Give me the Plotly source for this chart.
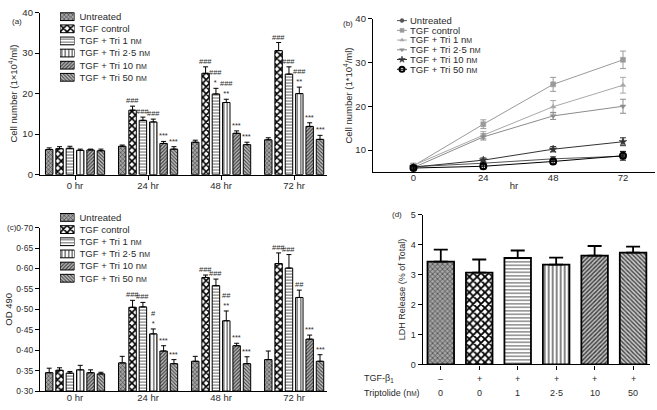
import plotly.graph_objects as go

W, H = 657, 410
FONT = "Liberation Sans, Arial, sans-serif"
TXT = '#2a2a2a'

# ---------------- data ----------------
groups = ['0 hr', '24 hr', '48 hr', '72 hr']
hours = [0, 24, 48, 72]
series_names = ['Untreated', 'TGF control', 'TGF + Tri 1 nM', 'TGF + Tri 2·5 nM',
                'TGF + Tri 10 nM', 'TGF + Tri 50 nM']

# (a)/(b) cell number (1x10^4/ml)
cell_untreated = [6.2, 7.0, 8.0, 8.6]
cell_tgf = [6.4, 15.9, 25.0, 30.6]
cell_tri1 = [6.5, 13.4, 19.9, 24.8]
cell_tri25 = [6.0, 13.0, 17.8, 20.0]
cell_tri10 = [6.1, 7.7, 10.2, 11.9]
cell_tri50 = [5.9, 6.3, 7.4, 8.7]
cell_err_untreated = [0.4, 0.3, 0.5, 0.5]
cell_err_tgf = [0.5, 1.0, 1.6, 2.0]
cell_err_tri1 = [0.5, 0.8, 1.4, 1.8]
cell_err_tri25 = [0.3, 0.7, 0.8, 1.6]
cell_err_tri10 = [0.2, 0.5, 0.6, 0.9]
cell_err_tri50 = [0.4, 0.6, 0.6, 1.0]

# (c) OD 490
od_untreated = [0.345, 0.369, 0.373, 0.377]
od_tgf = [0.351, 0.505, 0.578, 0.612]
od_tri1 = [0.344, 0.506, 0.558, 0.601]
od_tri25 = [0.352, 0.440, 0.472, 0.529]
od_tri10 = [0.345, 0.398, 0.411, 0.427]
od_tri50 = [0.342, 0.367, 0.367, 0.373]
od_err_untreated = [0.011, 0.016, 0.012, 0.021]
od_err_tgf = [0.006, 0.017, 0.006, 0.026]
od_err_tri1 = [0.004, 0.011, 0.016, 0.033]
od_err_tri25 = [0.011, 0.012, 0.024, 0.018]
od_err_tri10 = [0.007, 0.013, 0.006, 0.010]
od_err_tri50 = [0.004, 0.010, 0.017, 0.016]

# significance labels per series (one per time point)
a_sig = [['', '', '', ''],
         ['', '###', '###', '###'],
         ['', '###', '###<br>*', '###'],
         ['', '###', '###<br>**', '###<br>**'],
         ['', '***', '***', '***'],
         ['', '***', '***', '***']]
c_sig = [['', '', '', ''],
         ['', '###', '###', '###'],
         ['', '###', '###', '###'],
         ['', '#<br>*', '##<br>**', '##'],
         ['', '***', '***', '***'],
         ['', '***', '***', '***']]

# (d) LDH release
ldh_conditions = ['Untreated', 'TGF', 'Tri 1', 'Tri 2.5', 'Tri 10', 'Tri 50']
ldh_values = [3.43, 3.06, 3.55, 3.33, 3.63, 3.73]
ldh_errors = [0.40, 0.44, 0.25, 0.23, 0.32, 0.20]
tgf_row = ['–', '+', '+', '+', '+', '+']
trip_row = ['0', '0', '1', '2·5', '10', '50']

a_ticks = [0, 10, 20, 30, 40]
b_xticks = [0, 24, 48, 72]
b_yticks = [10, 20, 30, 40]
od_ticks = [0.30, 0.35, 0.40, 0.45, 0.50, 0.55, 0.60, 0.65, 0.70]
od_ticktext = ['0·30', '0·35', '0·40', '0·45', '0·50', '0·55', '0·60', '0·65', '0·70']
d_ticks = [0, 1, 2, 3, 4, 5]

cell_vals = [cell_untreated, cell_tgf, cell_tri1, cell_tri25, cell_tri10, cell_tri50]
cell_errs = [cell_err_untreated, cell_err_tgf, cell_err_tri1, cell_err_tri25,
             cell_err_tri10, cell_err_tri50]
od_vals = [od_untreated, od_tgf, od_tri1, od_tri25, od_tri10, od_tri50]
od_errs = [od_err_untreated, od_err_tgf, od_err_tri1, od_err_tri25,
           od_err_tri10, od_err_tri50]

# ---------------- styles ----------------
pat_shape = ['x', 'x', '-', '|', '/', '\\']
pat_fg = ['#3a3a3a', '#000000', '#555555', '#333333', '#3a3a3a', '#444444']
pat_bg = ['#a4a4a4', '#ffffff', '#ffffff', '#ffffff', '#c0c0c0', '#cacaca']
pat_size = [3, 5, 3, 3.5, 2.5, 2.5]
pat_sol = [0.35, 0.55, 0.3, 0.3, 0.45, 0.45]

b_colors = ['#555555', '#9a9a9a', '#a8a8a8', '#8c8c8c', '#333333', '#000000']
b_symbols = ['circle', 'square', 'triangle-up', 'triangle-down', 'star', 'circle-open']
b_msize = [5, 5, 5, 5, 6, 6]

BARGAP = 0.15
BARGROUPGAP = 0.28


def dx(px):
    return px / W


def dy(py):
    return 1 - py / H


def lab(n):
    return n.replace('nM', "n<span style='font-size:7px'>M</span>")


def slot_x(g, i, n=6):
    slot = (1 - BARGAP) / n
    return g - (1 - BARGAP) / 2 + (i + 0.5) * slot


def bar_marker(i, lw=1.0, extra=0.0):
    return dict(color=pat_bg[i], line=dict(color='black', width=lw),
                pattern=dict(shape=pat_shape[i], fgcolor=pat_fg[i], bgcolor=pat_bg[i],
                             size=pat_size[i] + extra, solidity=pat_sol[i], fillmode='replace'))


labels = [lab(n) for n in series_names]

fig = go.Figure()

# ---------------- (a) bars ----------------
for i in range(6):
    fig.add_trace(go.Bar(
        x=groups, y=cell_vals[i], xaxis='x', yaxis='y', showlegend=False,
        marker=bar_marker(i),
        error_y=dict(type='data', array=cell_errs[i], arrayminus=[0] * 4, symmetric=False,
                     color='black', thickness=1, width=2.5)))

# ---------------- (b) lines ----------------
for i in range(6):
    fig.add_trace(go.Scatter(
        x=hours, y=cell_vals[i], xaxis='x2', yaxis='y2', showlegend=False, mode='lines+markers',
        line=dict(color=b_colors[i], width=1),
        marker=dict(symbol=b_symbols[i], size=b_msize[i], color=b_colors[i],
                    line=dict(color=b_colors[i], width=2 if i == 5 else 0.5)),
        error_y=dict(type='data', array=cell_errs[i], color=b_colors[i], thickness=1, width=3)))

# ---------------- (c) bars ----------------
for i in range(6):
    fig.add_trace(go.Bar(
        x=groups, y=[v - od_ticks[0] for v in od_vals[i]], base=od_ticks[0],
        xaxis='x3', yaxis='y3', showlegend=False,
        marker=bar_marker(i),
        error_y=dict(type='data', array=od_errs[i], arrayminus=[0] * 4, symmetric=False,
                     color='black', thickness=1, width=2.5)))

# ---------------- (d) bars ----------------
for i in range(6):
    fig.add_trace(go.Bar(
        x=[ldh_conditions[i]], y=[ldh_values[i]], xaxis='x4', yaxis='y4', showlegend=False,
        width=0.69, offsetgroup='d', marker=bar_marker(i, lw=1.8, extra=0.5),
        error_y=dict(type='data', array=[ldh_errors[i]], arrayminus=[0], symmetric=False,
                     color='black', thickness=1.8, width=7)))

# ---------------- legend proxies ----------------
for xa, ya in (('x5', 'y5'), ('x7', 'y7')):
    for i in range(6):
        fig.add_trace(go.Bar(
            y=[labels[i]], x=[1], orientation='h', xaxis=xa, yaxis=ya, showlegend=False,
            width=0.64, offsetgroup='leg' + xa, cliponaxis=False, marker=bar_marker(i)))

for i in range(6):
    fig.add_trace(go.Scatter(
        x=[0, 1], y=[labels[i]] * 2, xaxis='x6', yaxis='y6', mode='lines', showlegend=False,
        line=dict(color=b_colors[i], width=1), cliponaxis=False))
    fig.add_trace(go.Scatter(
        x=[0.5], y=[labels[i]], xaxis='x6', yaxis='y6', mode='markers', showlegend=False,
        cliponaxis=False,
        marker=dict(symbol=b_symbols[i], size=b_msize[i] - 1, color=b_colors[i],
                    line=dict(color=b_colors[i], width=2 if i == 5 else 0.5))))

# ---------------- annotations ----------------
ann = []
for i in range(6):
    for g in range(4):
        if a_sig[i][g]:
            ann.append(dict(x=slot_x(g, i), y=cell_vals[i][g] + cell_errs[i][g], xref='x', yref='y',
                            text=a_sig[i][g], showarrow=False, yanchor='bottom', yshift=-1,
                            font=dict(size=7.5, color=TXT)))
        if c_sig[i][g]:
            ann.append(dict(x=slot_x(g, i), y=od_vals[i][g] + od_errs[i][g], xref='x3', yref='y3',
                            text=c_sig[i][g], showarrow=False, yanchor='bottom', yshift=-1,
                            font=dict(size=7.5, color=TXT)))

for j, cond in enumerate(ldh_conditions):
    ann.append(dict(x=cond, xref='x4', y=dy(390), yref='paper', text=tgf_row[j],
                    showarrow=False, font=dict(size=9)))
    ann.append(dict(x=cond, xref='x4', y=dy(405), yref='paper', text=trip_row[j],
                    showarrow=False, font=dict(size=9)))
ann.append(dict(x=dx(362), y=dy(390), xref='paper', yref='paper', xanchor='left',
                text='TGF-β<sub>1</sub>', showarrow=False, font=dict(size=9)))
ann.append(dict(x=dx(362), y=dy(405), xref='paper', yref='paper', xanchor='left',
                text="Triptolide (n<span style='font-size:6.5px'>M</span>)", showarrow=False,
                font=dict(size=9)))

for t, px, py in (('(a)', 10, 9), ('(b)', 348, 11), ('(c)', 4.5, 228), ('(d)', 397, 214)):
    ann.append(dict(x=dx(px), y=dy(py), xref='paper', yref='paper', text=t, showarrow=False,
                    font=dict(size=8)))

# ---------------- axes ----------------
axis_common = dict(showgrid=False, zeroline=False, showline=True, linecolor='black', linewidth=1.3,
                   ticks='outside', ticklen=4, tickwidth=1.2, tickcolor='black',
                   tickfont=dict(size=9.5, color=TXT))

legend_y = dict(type='category', showgrid=False, zeroline=False, showline=False, ticks='',
                side='right', range=[5.5, -0.5], tickmode='array', tickvals=labels,
                ticktext=labels, tickfont=dict(size=9.5, color=TXT))

fig.update_layout(
    width=W, height=H, autosize=False,
    margin=dict(l=0, r=0, t=0, b=0),
    paper_bgcolor='white', plot_bgcolor='white',
    font=dict(family=FONT, size=9.5, color=TXT),
    barmode='group', bargap=BARGAP, bargroupgap=BARGROUPGAP,
    annotations=ann,
    xaxis=dict(domain=[dx(40), dx(327)], anchor='y', type='category', range=[-0.48, 3.45],
               ticklabelstandoff=-2, **axis_common),
    yaxis=dict(domain=[dy(173.3), dy(6.7)], anchor='x', range=[0, 40], tickvals=a_ticks,
               title=dict(text='Cell number (1×10<sup>4</sup>/ml)', standoff=3,
                          font=dict(size=9.5)), **axis_common),
    xaxis2=dict(domain=[dx(373), dx(655)], anchor='y2', range=[-13.9, 83], tickvals=b_xticks,
                ticklabelstandoff=-4,
                title=dict(text='hr', standoff=0, font=dict(size=9.5)),
                **{**axis_common, 'ticks': ''}),
    yaxis2=dict(domain=[dy(171), dy(13)], anchor='x2', range=[4.9, 40], tickvals=b_yticks,
                title=dict(text='Cell number (1*10<sup>4</sup>/ml)', standoff=1,
                           font=dict(size=9.5)), **axis_common),
    xaxis3=dict(domain=[dx(40), dx(327)], anchor='y3', type='category', range=[-0.48, 3.45],
                ticklabelstandoff=-3, **{**axis_common, 'ticks': ''}),
    yaxis3=dict(domain=[dy(395.7), dy(227.7)], anchor='x3', range=[0.30, 0.70],
                tickvals=od_ticks, ticktext=od_ticktext,
                title=dict(text='OD 490', standoff=1, font=dict(size=9.5)),
                **{**axis_common, 'tickfont': dict(size=8.5, color=TXT)}),
    xaxis4=dict(domain=[dx(422.7), dx(650)], anchor='y4', type='category', range=[-0.47, 5.44],
                showticklabels=False, **axis_common),
    yaxis4=dict(domain=[dy(368.3), dy(214.3)], anchor='x4', range=[0, 5], tickvals=d_ticks,
                title=dict(text='LDH Release (% of Total)', standoff=3, font=dict(size=9)),
                **{**axis_common, 'tickfont': dict(size=9, color=TXT)}),
    xaxis5=dict(domain=[dx(60), dx(74.5)], anchor='y5', range=[0, 1], visible=False),
    yaxis5=dict(domain=[dy(79.5), dy(4.75)], anchor='x5', ticklabelstandoff=4, **legend_y),
    xaxis6=dict(domain=[dx(397), dx(407)], anchor='y6', range=[0, 1], visible=False),
    yaxis6=dict(domain=[dy(70), dy(10)], anchor='x6', ticklabelstandoff=2, **legend_y),
    xaxis7=dict(domain=[dx(60), dx(74.5)], anchor='y7', range=[0, 1], visible=False),
    yaxis7=dict(domain=[dy(286), dy(211)], anchor='x7', ticklabelstandoff=4, **legend_y),
)

fig.write_html("out.html", config={'displayModeBar': False},
               post_script="document.body.style.margin='0px';")
